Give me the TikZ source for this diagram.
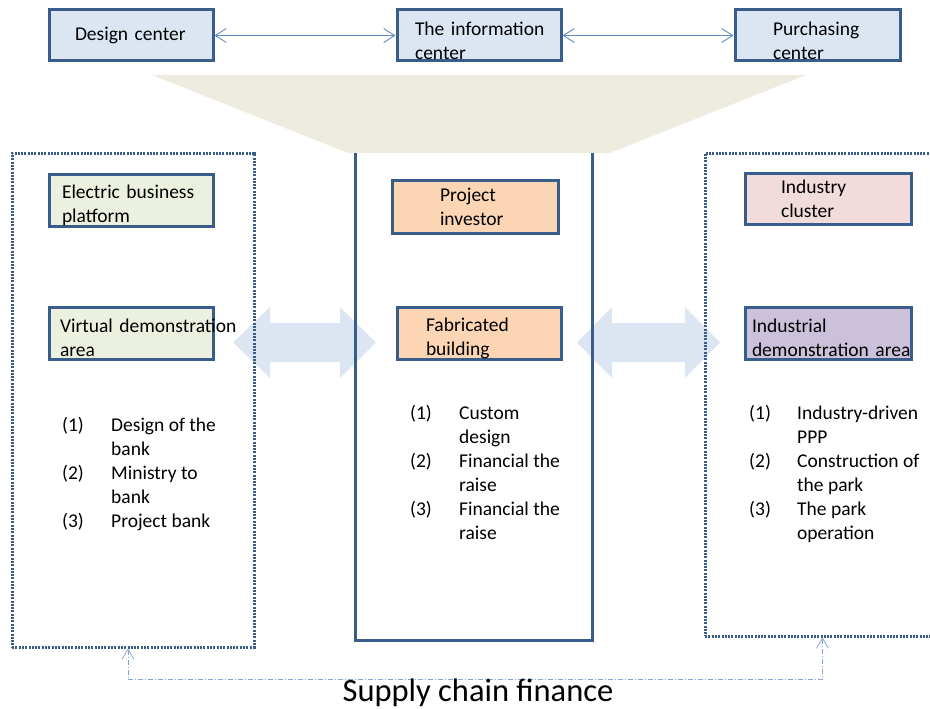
\documentclass[tikz,border=0pt]{standalone}
\usepackage{fontspec}
\setmainfont{Carlito}
\usetikzlibrary{arrows.meta}

\hyphenpenalty=10000
\exhyphenpenalty=10000

\definecolor{boxline}{HTML}{385D8A}
\definecolor{bluefill}{HTML}{DCE6F2}
\definecolor{greenfill}{HTML}{EBF1DE}
\definecolor{orangefill}{HTML}{FCD5B5}
\definecolor{pinkfill}{HTML}{F2DCDB}
\definecolor{lilacfill}{HTML}{CCC1DA}
\definecolor{funnel}{HTML}{EEECE1}
\definecolor{linkblue}{HTML}{5F8BC6}
\definecolor{sclinkblue}{HTML}{85A6D3}

\begin{document}
\begin{tikzpicture}[x=1pt, y=-1pt, font=\fontsize{19.5}{24}\selectfont,
	box/.style = {draw=boxline, line width=3pt, align=left, inner ysep=0pt},
	low/.style = {text height=24pt},
	dotarea/.style = {draw=boxline, line width=3pt, dash pattern=on 2pt off 1.3pt, inner sep=0pt},
	link/.style = {{Straight Barb[length=11pt,width=14pt]}-{Straight Barb[length=11pt,width=14pt]}, draw=linkblue, line width=0.9pt},
	sclink/.style = {{Straight Barb[length=10pt,width=12pt]}-{Straight Barb[length=10pt,width=12pt]}, draw=sclinkblue, line width=0.8pt, dash pattern=on 5pt off 2pt on 1pt off 2pt},
	list/.style = {anchor=north west, inner sep=0pt}]
		\useasboundingbox (0,0) rectangle (930,709);
		% block arrows between the three areas
		\fill[bluefill] (233,342.5) -- (270,307) -- (270,323) -- (340,323) -- (340,307) -- (376,342.5) -- (340,378) -- (340,362) -- (270,362) -- (270,378) -- cycle;
		\fill[bluefill] (577,342.5) -- (612,307) -- (612,323) -- (685,323) -- (685,307) -- (720,342.5) -- (685,378) -- (685,362) -- (612,362) -- (612,378) -- cycle;
		% funnel under the centers
		\fill[funnel] (152,75) -- (806,75) -- (610,153) -- (348,153) -- cycle;
		% the three areas
		\node[dotarea, minimum width=242pt, minimum height=494pt] (leftarea) at (133,400) {};
		\node[inner sep=0pt, minimum width=236pt, minimum height=487pt] (fabarea) at (474,396.5) {};
		\draw[boxline, line width=3pt] (fabarea.north west) |- (fabarea.south east) -- (fabarea.north east);
		\node[dotarea, minimum width=235pt, minimum height=483pt] (rightarea) at (822.5,394.5) {};
		% centers
		\node[box, fill=bluefill, minimum height=51pt, inner xsep=26pt, text width=112pt] (design) at (131,35.5) {Design~center};
		\node[box, low, fill=bluefill, minimum height=51pt, inner xsep=18pt, text width=128pt] (info) at (479,35.5) {The~information\\center};
		\node[box, low, fill=bluefill, minimum height=51pt, inner xsep=38pt, text width=89pt] (purchasing) at (817.5,35.5) {Purchasing\\center};
		\draw[link] (design) -- (info);
		\draw[link] (info) -- (purchasing);
		% left area
		\node[box, low, fill=greenfill, minimum height=52pt, inner xsep=13pt, text width=138pt] (platform) at (131,200) {Electric~business\\platform};
		\node[box, low, fill=greenfill, minimum height=52pt, inner xsep=11pt, text width=142pt] (virtual) at (131,333) {Virtual~demonstration\\area};
		\node[list] (virtuallist) at (62,414) {\begin{tabular}{@{}p{49pt}@{}l@{}}
			(1) & Design of the\\ & bank\\
			(2) & Ministry to\\ & bank\\
			(3) & Project bank
		\end{tabular}};
		% center area
		\node[box, fill=orangefill, minimum height=53pt, inner xsep=48pt, text width=70pt] (investor) at (475,206.5) {Project\\investor};
		\node[box, low, fill=orangefill, minimum height=52pt, inner xsep=29pt, text width=106pt] (fabricated) at (479,333) {Fabricated\\building};
		\node[list] (fablist) at (410,402) {\begin{tabular}{@{}p{49pt}@{}l@{}}
			(1) & Custom\\ & design\\
			(2) & Financial the\\ & raise\\
			(3) & Financial the\\ & raise
		\end{tabular}};
		% right area
		\node[box, fill=pinkfill, minimum height=51pt, inner xsep=36pt, text width=94pt] (cluster) at (828,198.5) {Industry\\cluster};
		\node[box, low, fill=lilacfill, minimum height=52pt, inner xsep=7pt, text width=152pt] (industrial) at (828,333) {Industrial\\demonstration~area};
		\node[list] (industriallist) at (749,402) {\begin{tabular}{@{}p{48pt}@{}l@{}}
			(1) & Industry-driven\\ & PPP\\
			(2) & Construction of\\ & the park\\
			(3) & The park\\ & operation
		\end{tabular}};
		% supply chain finance link
		\draw[sclink] ([xshift=-5pt]leftarea.south) -- ++(0,31) -| (rightarea.south);
		\node[font=\fontsize{32.5}{38}\selectfont, anchor=base] (scf) at (478,701) {Supply chain finance};
	\end{tikzpicture}
\end{document}
